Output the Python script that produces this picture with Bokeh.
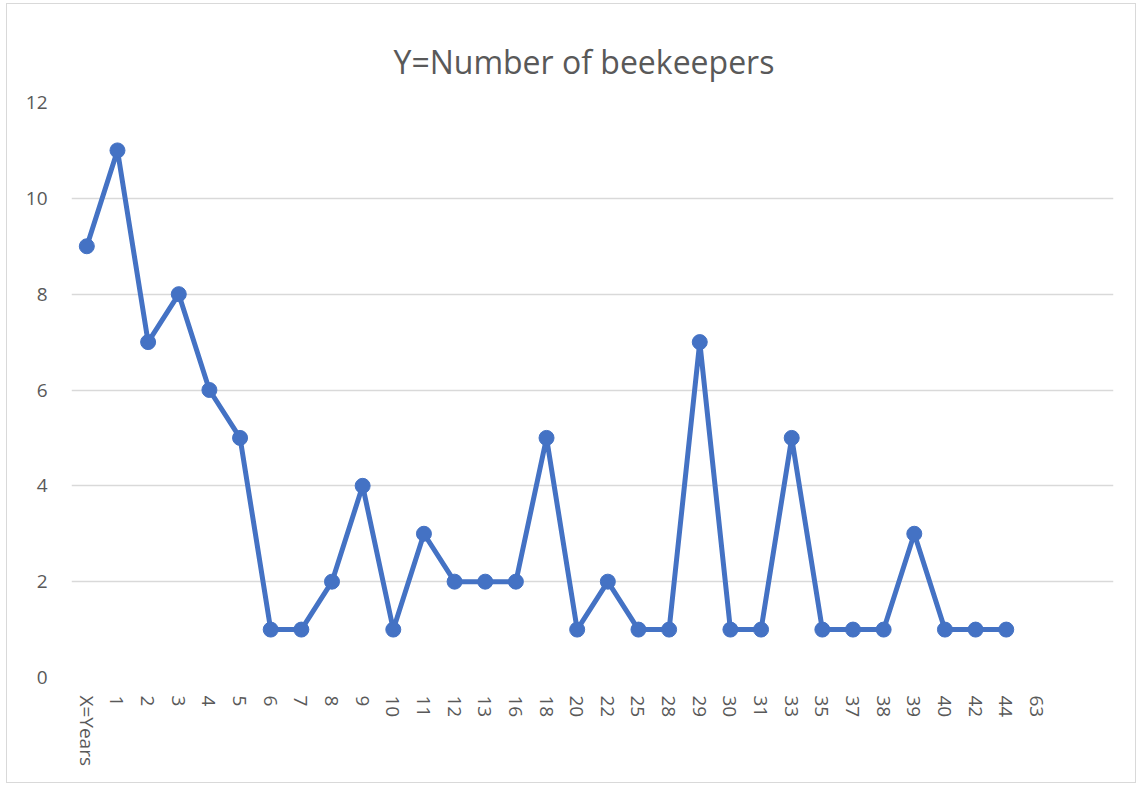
from bokeh.plotting import figure
from bokeh.models import Range1d, FixedTicker, Title, Spacer
from bokeh.layouts import column, row
from bokeh.embed import file_html
from bokeh.resources import INLINE

categories = ["X=Years", "1", "2", "3", "4", "5", "6", "7", "8", "9", "10", "11", "12", "13",
              "16", "18", "20", "22", "25", "28", "29", "30", "31", "33", "35", "37", "38",
              "39", "40", "42", "44", "63"]
values = [9, 11, 7, 8, 6, 5, 1, 1, 2, 4, 1, 3, 2, 2, 2, 5, 1, 2, 1, 1, 7, 1, 1, 5, 1, 1, 1,
          3, 1, 1, 1, None]
n_slots = 34  # two empty category slots after "63"
y_ticks = [0, 2, 4, 6, 8, 10, 12]

xs = [i for i, v in enumerate(values) if v is not None]
ys = [v for v in values if v is not None]

GRAY = "#595959"
FONT = "Open Sans"

p = figure(width=1130, height=780, output_backend="svg", toolbar_location=None,
           x_range=Range1d(-0.5, n_slots - 0.5), y_range=Range1d(0, 12),
           min_border_left=64, min_border_right=24, min_border_bottom=107, min_border_top=98)
p.outline_line_color = None
p.styles = {"border": "1px solid #d9d9d9"}

t = Title(text="Y=Number of beekeepers", align="left", text_font=FONT,
          text_font_size="32px", text_color=GRAY, text_font_style="normal",
          standoff=39, offset=322)
p.add_layout(t, "above")

p.xaxis.ticker = FixedTicker(ticks=list(range(len(categories))))
p.xaxis.major_label_overrides = {i: c for i, c in enumerate(categories)}
p.xaxis.major_label_orientation = "vertical"
p.yaxis.ticker = FixedTicker(ticks=y_ticks)

for ax in (p.xaxis, p.yaxis):
    ax.axis_line_color = None
    ax.major_tick_line_color = None
    ax.minor_tick_line_color = None
    ax.major_label_text_font = FONT
    ax.major_label_text_font_size = "19px"
    ax.major_label_text_color = GRAY
p.xaxis.major_label_standoff = 12
p.yaxis.major_label_standoff = 18

p.xgrid.grid_line_color = None
p.ygrid.ticker = FixedTicker(ticks=y_ticks)
p.ygrid.grid_line_color = "#d9d9d9"
p.ygrid.grid_line_width = 1.3

p.line(xs, ys, line_color="#4472C4", line_width=5, line_join="round")
p.scatter(xs, ys, size=15, fill_color="#4472C4", line_color="#4472C4")

layout = column(Spacer(height=3), row(Spacer(width=6), p))
open("out.html", "w").write(file_html(layout, INLINE))
